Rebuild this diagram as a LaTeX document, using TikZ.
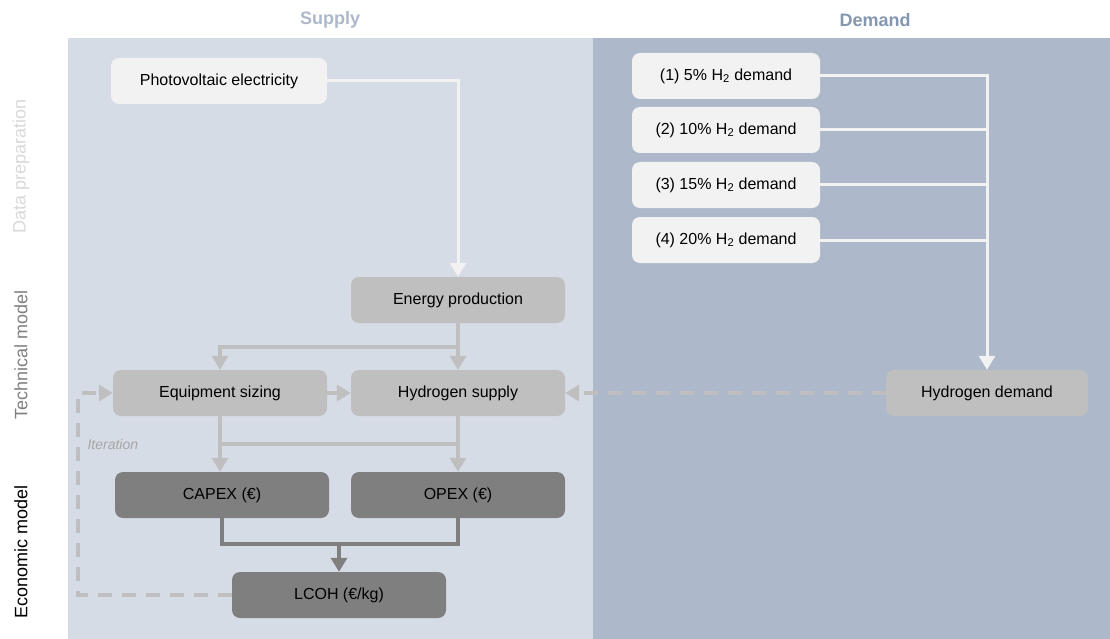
\documentclass[tikz,border=0pt]{standalone}
\usepackage{fontspec}
\setmainfont{Liberation Sans}
\usetikzlibrary{arrows.meta}
\definecolor{supbg}{HTML}{D6DCE5}
\definecolor{dembg}{HTML}{ADB9CA}
\definecolor{lightbox}{HTML}{F2F2F2}
\definecolor{midbox}{HTML}{BFBFBF}
\definecolor{darkbox}{HTML}{7F7F7F}
\definecolor{suphead}{HTML}{ADB9CA}
\definecolor{demhead}{HTML}{8497B0}
\tikzset{
  box/.style={rounded corners=8pt, minimum width=214pt, minimum height=46pt, inner sep=0pt, font=\fontsize{16}{18}\selectfont, text=black},
  lbox/.style={box, fill=lightbox},
  mbox/.style={box, fill=midbox},
  dbox/.style={box, fill=darkbox},
  tip/.style={-{Triangle[length=14pt,width=16pt]}},
  wline/.style={draw=lightbox, line width=3pt},
  mline/.style={draw=midbox, line width=4pt},
  dline/.style={draw=darkbox, line width=4pt},
  dashline/.style={draw=midbox, line width=4pt, dash pattern=on 14pt off 10pt},
  rowlabel/.style={rotate=90, font=\fontsize{18}{20}\selectfont},
  head/.style={font=\bfseries\fontsize{18}{20}\selectfont}
}
\begin{document}
\begin{tikzpicture}[x=1pt,y=-1pt]
\useasboundingbox (0,0) rectangle (1110,639);
\fill[white] (0,0) rectangle (1110,639);
\fill[supbg] (68,38) rectangle (593,639);
\fill[dembg] (593,38) rectangle (1110,639);
\node[head, text=suphead] (hsup) at (330,20) {Supply};
\node[head, text=demhead] (hdem) at (875,20) {Demand};
\node[rowlabel, text=black!15] (ldata) at (21,166) {Data preparation};
\node[rowlabel, text=black!50] (ltech) at (21,355) {Technical model};
\node[rowlabel, text=black] (lecon) at (21,552) {Economic model};
% boxes
\node[lbox, minimum width=216pt] (pv) at (219,81) {Photovoltaic electricity};
\node[mbox] (ep) at (458,300) {Energy production};
\node[mbox] (es) at (220,393) {Equipment sizing};
\node[mbox] (hs) at (458,393) {Hydrogen supply};
\node[dbox] (capex) at (222,495) {CAPEX (€)};
\node[dbox] (opex) at (458,495) {OPEX (€)};
\node[dbox] (lcoh) at (339,595) {LCOH (€/kg)};
\node[lbox, minimum width=188pt] (d1) at (726,76) {(1) 5\% H\textsubscript{2} demand};
\node[lbox, minimum width=188pt] (d2) at (726,130) {(2) 10\% H\textsubscript{2} demand};
\node[lbox, minimum width=188pt] (d3) at (726,185) {(3) 15\% H\textsubscript{2} demand};
\node[lbox, minimum width=188pt] (d4) at (726,240) {(4) 20\% H\textsubscript{2} demand};
\node[mbox, minimum width=202pt] (hd) at (987,393) {Hydrogen demand};
\node[font=\itshape\fontsize{14}{16}\selectfont, text=black!35, anchor=west] (iter) at (84,444) {Iteration};
% white connectors
\draw[wline, tip] (pv.east) -| (ep.north);
\draw[wline, tip] (d1.east) -| (hd.north);
\draw[wline] (d2.east) -- (hd.north |- d2.east);
\draw[wline] (d3.east) -- (hd.north |- d3.east);
\draw[wline] (d4.east) -- (hd.north |- d4.east);
% technical connectors
\coordinate (br1) at (458,347);
\draw[mline, tip] (ep.south) -- (hs.north);
\draw[mline, tip] (br1) -| (es.north);
\draw[mline, tip] (es.east) -- (hs.west);
\draw[mline, tip] (es.south) -- (capex.north -| es.south);
\draw[mline, tip] (hs.south) -- (opex.north);
\coordinate (br2a) at (220,444);
\coordinate (br2b) at (458,444);
\draw[mline] (br2a) -- (br2b);
% economic connectors
\coordinate (c1) at (222,544);
\coordinate (c2) at (458,544);
\draw[dline] (capex.south) -- (c1) -- (c2) -- (opex.south);
\draw[dline, tip] (lcoh.north |- c1) -- (lcoh.north);
% dashed connectors
\coordinate (it1) at (78,595);
\coordinate (it2) at (78,393);
\draw[dashline, tip] (lcoh.west) -- (it1) -- (it2) -- (es.west);
\draw[dashline, tip] (hd.west) -- (hs.east);
\end{tikzpicture}
\end{document}
